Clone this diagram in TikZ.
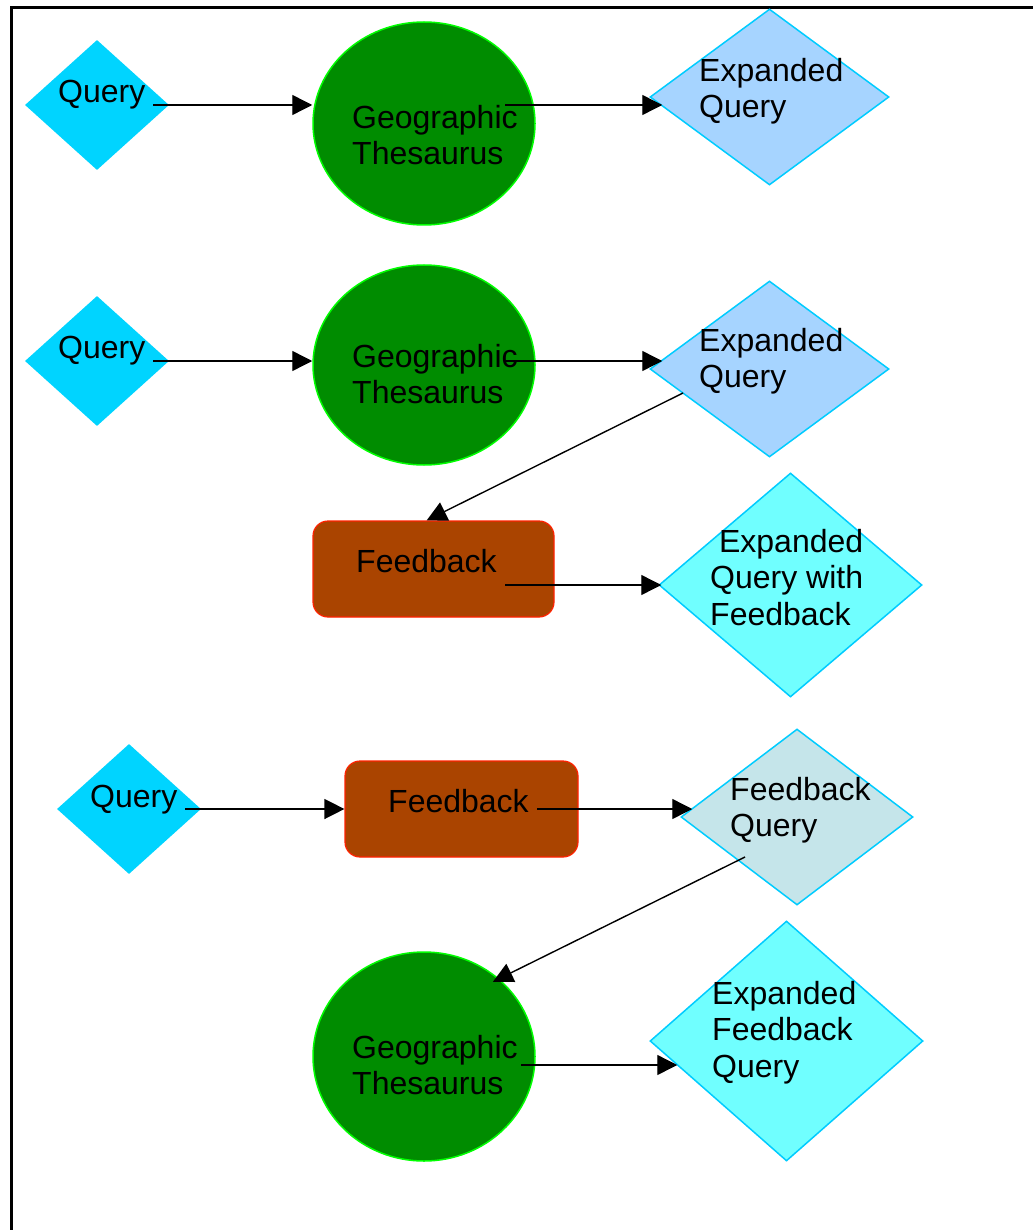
\documentclass[tikz,border=0pt]{standalone}
\usepackage{fontspec}
\setmainfont{Liberation Sans}
\usetikzlibrary{arrows.meta,shapes.geometric}
\definecolor{querycyan}{RGB}{0,212,255}
\definecolor{expblue}{RGB}{166,212,255}
\definecolor{expcyan}{RGB}{112,255,255}
\definecolor{fbquery}{RGB}{197,229,234}
\definecolor{diaedge}{RGB}{0,204,255}
\definecolor{thesfill}{RGB}{0,140,0}
\definecolor{thesline}{RGB}{0,255,0}
\definecolor{fbfill}{RGB}{170,68,0}
\definecolor{fbline}{RGB}{255,34,0}
\tikzset{
	thesaurus/.style={ellipse, draw=thesline, fill=thesfill, line width=1.5pt, inner sep=0pt, minimum width=222pt},
	fbbox/.style={rectangle, rounded corners=15pt, draw=fbline, fill=fbfill, line width=1.2pt, inner sep=0pt, minimum height=96pt},
	querydia/.style={diamond, fill=querycyan, inner sep=0pt, minimum width=144pt, minimum height=130pt},
	outdia/.style={diamond, draw=diaedge, line width=1.5pt, inner sep=0pt},
	txt/.style={anchor=north west, inner sep=0pt, align=left, font=\fontsize{32}{36.5}\selectfont},
	arr/.style={-{Triangle[length=20pt,width=20pt]}, line width=1.4pt}
}

\begin{document}
\begin{tikzpicture}[x=1pt, y=-1pt]
		%%%%% START %%%%%
		\useasboundingbox[fill=white] (0, 0) rectangle (1033, 1230);
		\draw[line width=3pt] (11, 1230) -- (11, 8) -- (1033, 8);
		
		% first row
		\node[querydia] (q1) at (97, 105) {};
		\node[thesaurus, minimum height=203pt] (g1) at (424, 123.5) {};
		\node[outdia, fill=expblue, minimum width=239pt, minimum height=176pt] (e1) at (769.5, 97) {};
		\node[txt] (q1t) at (58, 80) {Query};
		\node[txt] (g1t) at (352, 105) {Geographic\\Thesaurus};
		\node[txt] (e1t) at (699, 58) {Expanded\\Query};
		\coordinate (s11) at (153, 105);
		\coordinate (s12) at (505, 105);
		\draw[arr] (s11) -- (s11 -| g1.west);
		\draw[arr] (s12) -- ([xshift=13pt]e1.west |- s12);
		
		% second row
		\node[querydia] (q2) at (97, 361) {};
		\node[thesaurus, minimum height=200pt] (g2) at (424, 365) {};
		\node[outdia, fill=expblue, minimum width=239pt, minimum height=176pt] (e2) at (769.5, 369) {};
		\node[fbbox, minimum width=241pt] (fb1) at (433.5, 569) {};
		\node[outdia, fill=expcyan, minimum width=263pt, minimum height=224pt] (eqf) at (790.5, 585) {};
		\node[txt] (q2t) at (58, 336) {Query};
		\node[txt] (g2t) at (352, 344) {Geographic\\Thesaurus};
		\node[txt] (e2t) at (699, 328) {Expanded\\Query};
		\node[txt] (fb1t) at (356, 549) {Feedback};
		\node[txt] (eqft) at (710, 529) {\ Expanded\\Query with\\Feedback};
		\coordinate (s21) at (153, 361);
		\coordinate (s22) at (505, 361);
		\coordinate (s23) at (683, 393);
		\coordinate (s24) at (505, 585);
		\draw[arr] (s21) -- (s21 -| g2.west);
		\draw[arr] (s22) -- ([xshift=13pt]e2.west |- s22);
		\draw[arr] (s23) -- (fb1.98);
		\draw[arr] (s24) -- ([xshift=3pt]eqf.west |- s24);
		
		% third row
		\node[querydia] (q3) at (129, 809) {};
		\node[fbbox, minimum width=233pt] (fb2) at (461.5, 809) {};
		\node[outdia, fill=fbquery, minimum width=232pt, minimum height=176pt] (fq) at (797, 817) {};
		\node[thesaurus, minimum height=209pt] (g3) at (424, 1056.5) {};
		\node[outdia, fill=expcyan, minimum width=273pt, minimum height=240pt] (efq) at (786.5, 1041) {};
		\node[txt] (q3t) at (90, 785) {Query};
		\node[txt] (fb2t) at (388, 789) {Feedback};
		\node[txt] (fqt) at (730, 777) {Feedback\\Query};
		\node[txt] (g3t) at (352, 1035) {Geographic\\Thesaurus};
		\node[txt] (efqt) at (712, 981) {Expanded\\Feedback\\Query};
		\coordinate (s31) at (185, 809);
		\coordinate (s32) at (537, 809);
		\coordinate (s33) at (745, 857);
		\coordinate (s34) at (521, 1065);
		\draw[arr] (s31) -- (s31 -| fb2.west);
		\draw[arr] (s32) -- ([xshift=12pt]fq.west |- s32);
		\draw[arr, shorten >=-7pt] (s33) -- (g3.46);
		\draw[arr] (s34) -- ([xshift=28pt]efq.west |- s34);
		
		%%%%% END %%%%%
\end{tikzpicture}
\end{document}
